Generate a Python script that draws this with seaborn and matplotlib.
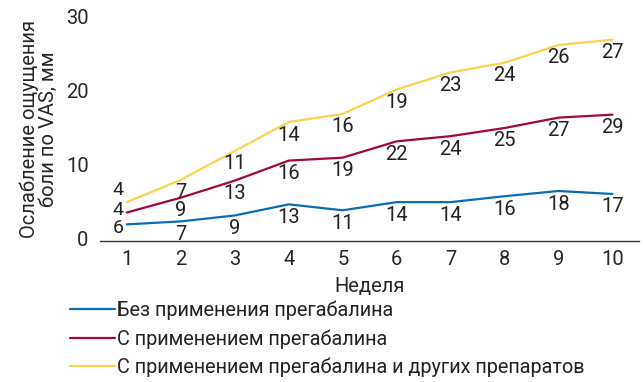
import numpy as np
import pandas as pd
import matplotlib
matplotlib.use('Agg')
import matplotlib.pyplot as plt
import seaborn as sns
from matplotlib import font_manager

weeks = [1, 2, 3, 4, 5, 6, 7, 8, 9, 10]
series_names = [
    'Без применения прегабалина',
    'С применением прегабалина',
    'С применением прегабалина и других препаратов',
]
no_pregabalin = [1.9, 2.3, 3.1, 4.6, 3.8, 4.9, 4.9, 5.7, 6.4, 6.0]
pregabalin = [3.5, 5.5, 7.8, 10.5, 10.9, 13.1, 13.8, 14.9, 16.3, 16.7]
pregabalin_other = [4.9, 7.9, 11.8, 15.7, 16.8, 20.1, 22.4, 23.7, 26.1, 26.8]
labels_no = [6, 7, 9, 13, 11, 14, 14, 16, 18, 17]
labels_preg = [4, 9, 13, 16, 19, 22, 24, 25, 27, 29]
labels_other = [4, 7, 11, 14, 16, 19, 23, 24, 26, 27]
colors = ['#0a6cb4', '#a2063f', '#fdd14a']


def pick_font():
    names = {f.name for f in font_manager.fontManager.ttflist}
    for name in ['Liberation Sans Narrow', 'Roboto', 'DejaVu Sans']:
        if name in names:
            return name
    return 'DejaVu Sans'


sns.set_theme(style='white')
plt.rcParams['font.family'] = [pick_font(), 'DejaVu Sans']
plt.rcParams['text.color'] = '#222222'

df = pd.DataFrame({
    'week': weeks * 3,
    'value': no_pregabalin + pregabalin + pregabalin_other,
    'label': labels_no + labels_preg + labels_other,
    'series': sum([[n] * len(weeks) for n in series_names], []),
})
df['pos'] = df['week'] - 1

fig = plt.figure(figsize=(6.44, 3.82), dpi=100)
ax = fig.add_axes([0.155, 0.368, 0.838, 0.590])

sns.lineplot(data=df, x='pos', y='value', hue='series', hue_order=series_names,
             palette=colors, linewidth=1.6, ax=ax, legend=False)

# numbers next to points (first week on the left, the rest below the line)
first_dy = {series_names[0]: -4, series_names[1]: 3, series_names[2]: 12}
for name, vals, labs in zip(series_names, [no_pregabalin, pregabalin, pregabalin_other],
                            [labels_no, labels_preg, labels_other]):
    for i, (v, lab) in enumerate(zip(vals, labs)):
        if i == 0:
            ax.annotate(str(lab), (i, v), xytext=(-3, first_dy[name]), textcoords='offset pixels',
                        ha='right', va='center', fontsize=14)
        else:
            ax.annotate(str(lab), (i, v), xytext=(0, -13), textcoords='offset pixels',
                        ha='center', va='center', fontsize=14.5)

ax.set_xlim(-0.5, 9.5)
ax.set_ylim(-0.4, 30)
ax.set_yticks([0, 10, 20, 30])
ax.set_yticklabels(['0', '10', '20', '30'], fontsize=14.5)
ax.set_xticks(range(10))
ax.set_xticklabels([str(w) for w in weeks], fontsize=14.5)
ax.set_xticks(np.arange(-0.5, 10, 1), minor=True)
ax.tick_params(axis='x', which='major', length=0, pad=6)
ax.tick_params(axis='x', which='minor', length=4, width=1, direction='in', color='#333333')
ax.tick_params(axis='y', length=0, pad=8)
for side in ['top', 'right', 'left']:
    ax.spines[side].set_visible(False)
ax.spines['bottom'].set_color('#333333')
ax.spines['bottom'].set_linewidth(1)

ax.set_xlabel('Неделя', fontsize=14.5, labelpad=6)
ax.set_ylabel('Ослабление ощущения\nболи по VAS, мм', fontsize=14.5, linespacing=1.0, labelpad=6)

handles = [plt.Line2D([], [], color=c, linewidth=1.6) for c in colors]
fig.legend(handles, series_names, loc='upper left', bbox_to_anchor=(0.108, 0.213),
           frameon=False, fontsize=14.3, handlelength=2.3, handletextpad=0.1,
           labelspacing=0.45, borderpad=0, borderaxespad=0)

fig.savefig('out.png', dpi=100)
